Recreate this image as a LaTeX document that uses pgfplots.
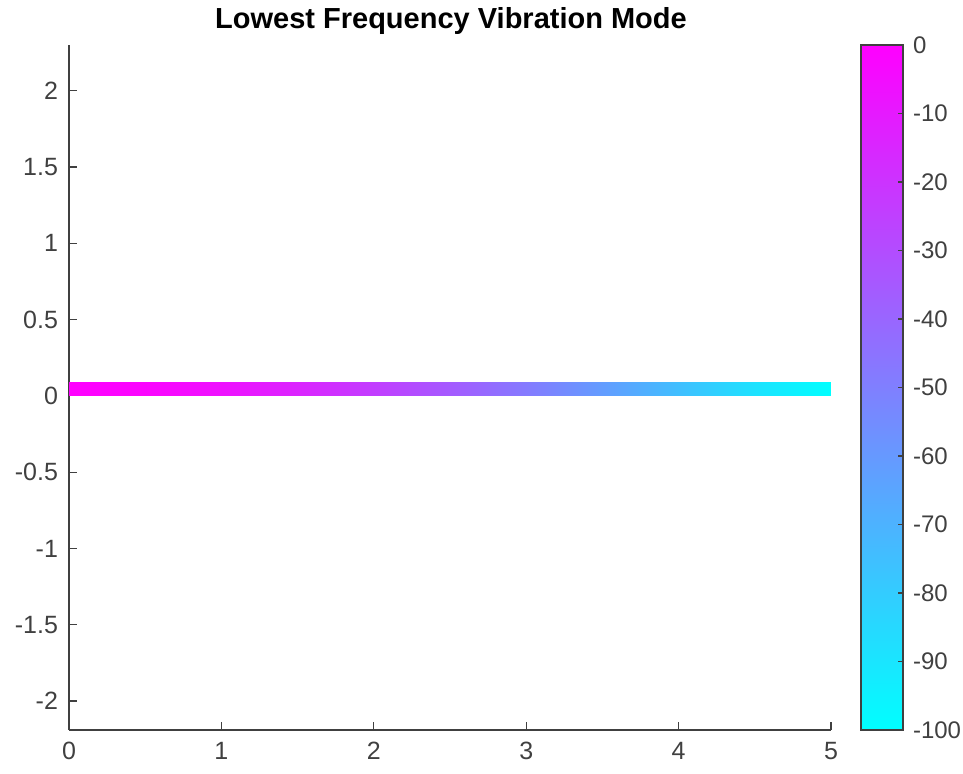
\documentclass[border=0pt]{standalone}
\usepackage{pgfplots}
\pgfplotsset{compat=1.18}
\usepackage{fontspec}
\setmainfont{Liberation Sans}
\definecolor{axgray}{gray}{0.25}

\begin{document}
\begin{tikzpicture}
% picture area in px * 0.5pt, axis box from (69,730) to (831,45)
\path[use as bounding box] (-34.5pt,-22pt) rectangle (447pt,365pt);
\begin{axis}[
    at={(0,0)}, anchor=south west,
    scale only axis,
    width=381pt, height=342.5pt,
    xmin=0, xmax=5,
    ymin=-2.19, ymax=2.30,
    axis x line*=bottom,
    axis y line*=left,
    axis line style={axgray, line width=0.6pt},
    tick style={axgray, line width=0.6pt},
    tick align=inside,
    major tick length=4pt,
    xtick={0,1,...,5},
    ytick={-2,-1.5,...,2},
    ticklabel style={font=\fontsize{12.5}{14}\selectfont, text=axgray},
    xticklabel style={yshift=-2.5pt},
    yticklabel style={xshift=-2pt, /pgf/number format/fixed},
    /pgf/number format/assume math mode=true,
    colormap={mycool}{rgb255=(0,255,255) rgb255=(255,0,255)},
    point meta min=-100, point meta max=0,
    colorbar right,
    colorbar/width=21pt,
    colorbar shift/.style={xshift=15pt},
    colorbar style={
        at={(parent axis.north east)}, anchor=north west,
        axis lines=box,
        enlargelimits=false,
        scale only axis,
        height=342.5pt,
        ytick={-100,-90,...,0},
        ytick pos=right,
        yticklabel pos=right,
        tick align=inside,
        major tick length=2.5pt,
        axis line style={axgray, line width=0.6pt},
        tick style={axgray, line width=0.6pt},
        ticklabel style={font=\fontsize{12}{14}\selectfont, text=axgray},
        yticklabel style={xshift=1.5pt},
        /pgf/number format/assume math mode=true,
    },
]
\addplot[surf, shader=interp, mesh/cols=11, point meta=explicit]
  table[meta=c] {
x   y     c
0.0 0.00  0
0.5 0.00  -1.7
1.0 0.00  -6.6
1.5 0.00  -14.2
2.0 0.00  -24.0
2.5 0.00  -35.5
3.0 0.00  -48.0
3.5 0.00  -61.2
4.0 0.00  -74.9
4.5 0.00  -88.7
5.0 0.00  -100
0.0 0.09  0
0.5 0.09  -1.7
1.0 0.09  -6.6
1.5 0.09  -14.2
2.0 0.09  -24.0
2.5 0.09  -35.5
3.0 0.09  -48.0
3.5 0.09  -61.2
4.0 0.09  -74.9
4.5 0.09  -88.7
5.0 0.09  -100
};
\end{axis}
% title
\node[anchor=base, font=\fontsize{14.5}{16}\selectfont\bfseries] at (191pt,350.5pt)
  {Lowest Frequency Vibration Mode};
\end{tikzpicture}
\end{document}
